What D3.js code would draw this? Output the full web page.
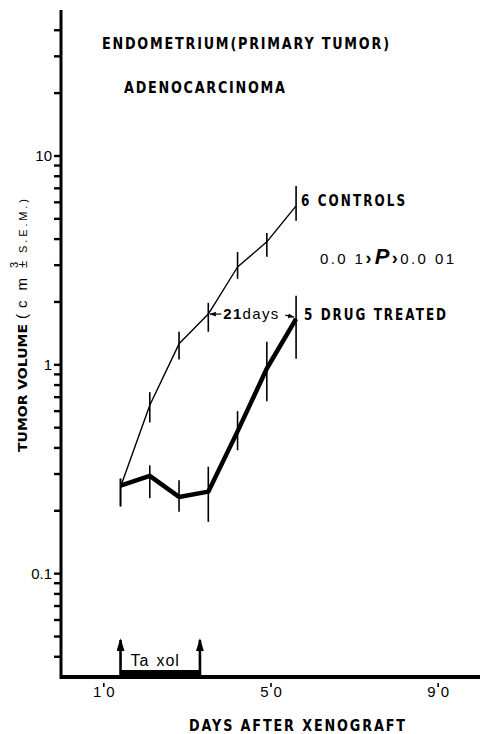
<!DOCTYPE html>
<html>
<head>
<meta charset="utf-8">
<script src="https://cdn.jsdelivr.net/npm/d3@7"></script>
<style>
  body { margin: 0; background: #fff; }
  svg { display: block; }
  .cond { font-family: "DejaVu Sans", sans-serif; font-weight: bold; }
  .plain { font-family: "Liberation Sans", "DejaVu Sans", sans-serif; }
</style>
</head>
<body>
<div id="chart"></div>
<script>
// days after xenograft
const days = [14, 21, 28, 35, 42, 49, 56];

// controls (n=6), tumor volume cm3 with S.E.M. range
const controls   = [0.26, 0.64, 1.26, 1.75, 2.94, 3.88, 5.77];
const controlsLo = [0.21, 0.53, 1.06, 1.44, 2.58, 3.29, 4.89];
const controlsHi = [0.285, 0.74, 1.44, 1.98, 3.47, 4.28, 7.18];

// drug treated (n=5)
const drug   = [0.264, 0.294, 0.233, 0.247, 0.48, 0.96, 1.66];
const drugLo = [0.21, 0.23, 0.198, 0.177, 0.39, 0.67, 1.07];
const drugHi = [0.285, 0.33, 0.28, 0.325, 0.60, 1.29, 2.14];

// taxol treatment window (days)
const taxolDays = [14, 33];

const xTicks = [10, 50, 90];
const yLabelTicks = [0.1, 1, 10];
const yMinorTicks = [0.04, 0.05, 0.06, 0.07, 0.08, 0.09,
  0.2, 0.3, 0.4, 0.5, 0.6, 0.7, 0.8, 0.9,
  2, 3, 4, 5, 6, 7, 8, 9, 20, 30, 40];

const W = 480, H = 734;
const margin = { top: 10, right: 0, bottom: 57, left: 61 };

const svg = d3.select("#chart").append("svg")
  .attr("width", W)
  .attr("height", H);

const x = d3.scaleLinear().domain([0, 100]).range([margin.left + 1, W - margin.right]);
const y = d3.scaleLog().domain([0.032, 50]).range([H - margin.bottom, margin.top]);

const defs = svg.append("defs");
defs.append("marker")
  .attr("id", "head")
  .attr("viewBox", "0 0 14 10")
  .attr("refX", 12).attr("refY", 5)
  .attr("markerWidth", 13).attr("markerHeight", 8)
  .attr("markerUnits", "userSpaceOnUse")
  .attr("orient", "auto")
  .attr("preserveAspectRatio", "none")
  .append("path").attr("d", "M0,0 L14,5 L0,10 Z").attr("fill", "#000");
defs.append("marker")
  .attr("id", "smallhead")
  .attr("viewBox", "0 0 10 10")
  .attr("refX", 10).attr("refY", 5)
  .attr("markerWidth", 6).attr("markerHeight", 6)
  .attr("markerUnits", "userSpaceOnUse")
  .attr("orient", "auto")
  .append("path").attr("d", "M0,1 L10,5 L0,9 Z").attr("fill", "#000");

// bold, narrow, wide-spaced lettering of the original
function condText(px, py, size, len, str, anchor) {
  const sx = 0.8;
  return svg.append("text")
    .attr("class", "cond")
    .attr("transform", `translate(${px},${py}) scale(${sx},1)`)
    .attr("text-anchor", anchor || "start")
    .attr("font-size", size)
    .attr("textLength", len / sx).attr("lengthAdjust", "spacing")
    .text(str);
}

// axis lines
svg.append("line")
  .attr("x1", margin.left).attr("x2", margin.left)
  .attr("y1", margin.top).attr("y2", H - margin.bottom + 2)
  .attr("stroke", "#000").attr("stroke-width", 3);
svg.append("line")
  .attr("x1", margin.left - 1).attr("x2", W)
  .attr("y1", H - margin.bottom).attr("y2", H - margin.bottom)
  .attr("stroke", "#000").attr("stroke-width", 4);

// y axis ticks (drawn over the axis line)
svg.append("g").selectAll("rect")
  .data(yMinorTicks.concat(yLabelTicks))
  .join("rect")
  .attr("x", margin.left - 7).attr("width", 7)
  .attr("y", d => y(d) - 1.2).attr("height", 2.4)
  .attr("fill", "#000");

// y axis labels
svg.append("g")
  .attr("transform", `translate(${margin.left},0)`)
  .call(d3.axisLeft(y).tickValues(yLabelTicks).tickSize(7).tickPadding(2)
    .tickFormat(d => d >= 1 ? d3.format("d")(d) : "0.1"))
  .call(g => g.select(".domain").remove())
  .call(g => g.selectAll("line").remove())
  .call(g => g.selectAll("text").attr("font-size", 15).attr("fill", "#000")
    .attr("font-family", "Liberation Sans, DejaVu Sans, sans-serif"));

// x axis
svg.append("g")
  .attr("transform", `translate(0,${H - margin.bottom})`)
  .call(d3.axisBottom(x).tickValues(xTicks).tickSize(8).tickPadding(1).tickFormat(d3.format("d")))
  .call(g => g.select(".domain").remove())
  .call(g => g.selectAll("line").remove())
  .call(g => g.selectAll("text").attr("font-size", 15).attr("fill", "#000")
    .attr("letter-spacing", "5px").attr("dx", "2px")
    .attr("font-family", "Liberation Sans, DejaVu Sans, sans-serif"));
svg.append("g").selectAll("rect")
  .data(xTicks)
  .join("rect")
  .attr("x", d => x(d) - 0.8).attr("width", 1.6)
  .attr("y", H - margin.bottom + 6).attr("height", 4)
  .attr("fill", "#000");

// series
function drawSeries(vals, lo, hi, width) {
  const pts = days.map((d, i) => [x(d), y(vals[i])]);
  svg.append("path")
    .attr("d", d3.line()(pts))
    .attr("fill", "none")
    .attr("stroke", "#000")
    .attr("stroke-width", width)
    .attr("stroke-linejoin", "round");
  svg.append("g").selectAll("line")
    .data(days)
    .join("line")
    .attr("x1", d => x(d)).attr("x2", d => x(d))
    .attr("y1", (d, i) => y(lo[i])).attr("y2", (d, i) => y(hi[i]))
    .attr("stroke", "#000").attr("stroke-width", 1.6);
}
drawSeries(controls, controlsLo, controlsHi, 1.4);
drawSeries(drug, drugLo, drugHi, 4.5);

const last = days.length - 1;

// series labels
condText(x(days[last]) + 5, y(controls[last]) + 0, 15, 104, "6 CONTROLS");
condText(x(days[last]) + 8, y(drug[last]) + 1, 15, 142, "5 DRUG TREATED");

// p value
const pText = svg.append("text")
  .attr("class", "plain")
  .attr("x", 320).attr("y", 264)
  .attr("font-size", 15)
  .attr("letter-spacing", "2.4px");
pText.append("tspan").text("0.0 1");
pText.append("tspan").attr("font-weight", "bold").attr("font-size", 18).text("›");
pText.append("tspan").attr("font-weight", "bold").attr("font-style", "italic")
  .attr("font-size", 22).attr("dx", 1).text("P");
pText.append("tspan").attr("font-weight", "bold").attr("font-size", 18).text("›");
pText.append("tspan").text("0.0 01");

// 21 days arrow (control at day 35 to drug at day 56)
const arrowY = y(controls[3]);
svg.append("line")
  .attr("x1", x(days[3]) + 13).attr("x2", x(days[3]) + 1.5)
  .attr("y1", arrowY).attr("y2", arrowY)
  .attr("stroke", "#000").attr("stroke-width", 1.2)
  .attr("marker-end", "url(#smallhead)");
svg.append("line")
  .attr("x1", x(days[3]) + 77).attr("x2", x(days[last]) - 2)
  .attr("y1", arrowY + 1).attr("y2", arrowY + 3)
  .attr("stroke", "#000").attr("stroke-width", 1.2)
  .attr("marker-end", "url(#smallhead)");
const dText = svg.append("text")
  .attr("class", "plain")
  .attr("x", x(days[3]) + 15).attr("y", arrowY + 5)
  .attr("font-size", 15)
  .attr("letter-spacing", "1.3px");
dText.append("tspan").attr("font-weight", "bold").text("21");
dText.append("tspan").text("days");

// taxol treatment
const axisY = H - margin.bottom;
svg.append("rect")
  .attr("x", x(taxolDays[0])).attr("width", x(taxolDays[1]) - x(taxolDays[0]))
  .attr("y", axisY - 7).attr("height", 7)
  .attr("fill", "#000");
svg.append("g").selectAll("line")
  .data(taxolDays)
  .join("line")
  .attr("x1", d => x(d)).attr("x2", d => x(d))
  .attr("y1", axisY).attr("y2", axisY - 37)
  .attr("stroke", "#000").attr("stroke-width", 2.6)
  .attr("marker-end", "url(#head)");
const tx = svg.append("text")
  .attr("class", "plain")
  .attr("x", x(taxolDays[0]) + 10).attr("y", axisY - 11)
  .attr("font-size", 16)
  .attr("letter-spacing", "1px");
tx.append("tspan").text("Ta");
tx.append("tspan").attr("dx", 7).text("xol");

// titles
condText(102, 49, 16, 287, "ENDOMETRIUM(PRIMARY TUMOR)");
condText(124, 93, 16, 161, "ADENOCARCINOMA");
condText(297, 731, 16, 216, "DAYS AFTER XENOGRAFT", "middle");

// y axis title (rotated, reads bottom to top)
const yt = svg.append("g").attr("transform", "translate(27,452) rotate(-90)");
yt.append("text")
  .attr("class", "cond")
  .attr("transform", "scale(1,0.85)")
  .attr("font-size", 14)
  .attr("textLength", 128).attr("lengthAdjust", "spacing")
  .text("TUMOR VOLUME");
yt.append("text").attr("class", "plain").attr("x", 133).attr("font-size", 15).text("(");
yt.append("text").attr("class", "plain").attr("x", 144).attr("font-size", 15)
  .attr("textLength", 30).attr("lengthAdjust", "spacing").text("cm");
yt.append("text").attr("class", "plain").attr("x", 184).attr("y", -9).attr("font-size", 11).text("3");
yt.append("text").attr("class", "plain").attr("x", 184).attr("font-size", 13).text("±");
yt.append("text").attr("class", "plain").attr("x", 199).attr("font-size", 11)
  .attr("textLength", 54).attr("lengthAdjust", "spacing").text("S.E.M.)");
</script>
</body>
</html>
